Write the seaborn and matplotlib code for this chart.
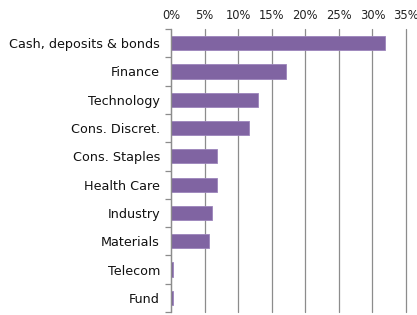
import matplotlib
matplotlib.use("Agg")
import matplotlib.pyplot as plt
import seaborn as sns
import pandas as pd
import numpy as np
from matplotlib.ticker import PercentFormatter, FixedLocator

categories = ["Cash, deposits & bonds", "Finance", "Technology", "Cons. Discret.",
              "Cons. Staples", "Health Care", "Industry", "Materials", "Telecom", "Fund"]
values = [31.8, 17.1, 12.9, 11.6, 6.9, 6.85, 6.1, 5.7, 0.35, 0.25]
x_ticks = [0, 5, 10, 15, 20, 25, 30, 35]

sns.set_theme(style="white")
plt.rcParams['font.family'] = ['DejaVu Sans']

df = pd.DataFrame({"category": categories, "value": values})

fig = plt.figure(figsize=(4.17, 3.15), dpi=100)
ax = fig.add_axes([171/417, 1 - 312/315, (406-171)/417, (312-29)/315])

sns.barplot(data=df, x="value", y="category", orient="h", color="#8064A2",
            saturation=1, width=0.5, ax=ax, edgecolor="#9c84bb", linewidth=0.6)

ax.set_xlim(0, 35)
ax.set_ylim(len(categories) - 0.5, -0.5)
ax.set_xlabel("")
ax.set_ylabel("")
ax.xaxis.tick_top()
ax.set_xticks(x_ticks)
ax.xaxis.set_major_formatter(PercentFormatter(decimals=0))
ax.tick_params(axis="x", length=0, pad=5, labelsize=8.3, colors="#222222")
ax.grid(axis="x", color="#8c8c8c", linewidth=0.9)
for gl in ax.get_xgridlines():
    gl.set_clip_on(False)
ax.set_axisbelow(True)

ax.tick_params(axis="y", which="major", length=0, pad=8, labelsize=9.2, colors="#111111")
ax.yaxis.set_minor_locator(FixedLocator(np.arange(-0.5, len(categories), 1.0)))
ax.tick_params(axis="y", which="minor", length=4, width=0.9, color="#8c8c8c", left=True)

for s in ["top", "right", "bottom"]:
    ax.spines[s].set_visible(False)
ax.spines["left"].set_color("#8c8c8c")
ax.spines["left"].set_linewidth(0.9)

fig.savefig("out.png", dpi=100)
